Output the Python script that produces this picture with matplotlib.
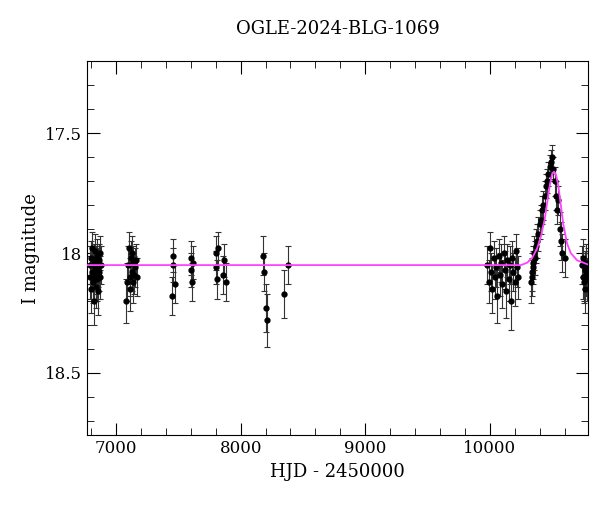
import numpy as np
import matplotlib
matplotlib.use('Agg')
import matplotlib.pyplot as plt
from matplotlib.ticker import MultipleLocator

# photometry: HJD-2450000, I mag, error
hjd = [6790, 6795, 6800, 6803, 6806, 6810, 6813, 6816, 6820, 6823, 6826, 6830, 6833, 6836,
       6840, 6843, 6846, 6850, 6853, 6856, 6860, 6865, 6870, 6875, 6880,
       7080, 7090, 7100, 7105, 7110, 7115, 7120, 7125, 7130, 7135, 7140, 7145, 7150, 7160, 7170,
       7450, 7455, 7460, 7470,
       7600, 7605, 7610, 7620,
       7800, 7805, 7810, 7820, 7860, 7870, 7880,
       8180, 8190, 8200, 8215,
       8350, 8380,
       9980, 9990, 10000, 10010, 10020, 10030, 10040, 10050, 10060, 10070, 10080, 10090,
       10100, 10110, 10120, 10130, 10140, 10150, 10160, 10170, 10180, 10190, 10200, 10210, 10220, 10230,
       10330, 10335, 10340, 10345, 10350, 10355, 10360, 10370, 10380, 10390, 10400, 10410,
       10420, 10430, 10440, 10450, 10460, 10470, 10480, 10490, 10500, 10510, 10520, 10530,
       10540, 10550, 10560, 10570, 10580, 10600,
       10740, 10745, 10750, 10755, 10760, 10765, 10770, 10775, 10780, 10785]
mag = [18.05, 18.10, 18.02, 18.15, 18.08, 17.98, 18.12, 18.05, 18.20, 18.03, 18.10, 17.99, 18.07,
       18.14, 18.04, 18.09, 18.01, 18.11, 18.06, 18.16, 18.03, 18.08, 18.00, 18.10, 18.05,
       18.20, 18.12, 18.05, 17.98, 18.10, 18.15, 18.02, 18.08, 18.00, 18.12, 18.04, 18.09, 18.06, 18.03, 18.10,
       18.18, 18.05, 18.01, 18.13,
       18.07, 18.02, 18.12, 18.04,
       18.00, 18.06, 18.11, 17.98, 18.09, 18.03, 18.12,
       18.01, 18.08, 18.23, 18.28,
       18.17, 18.05,
       18.05, 18.12, 17.98, 18.08, 18.15, 18.02, 18.10, 18.06, 18.18, 18.01, 18.09, 18.04,
       18.13, 18.00, 18.07, 18.16, 18.03, 18.11, 18.05, 18.20, 18.02, 18.08, 18.12, 17.99, 18.06, 18.10,
       18.12, 18.08, 18.10, 18.04, 18.06, 18.00, 18.02, 17.97, 17.95, 17.92, 17.88, 17.86,
       17.82, 17.80, 17.76, 17.72, 17.70, 17.67, 17.64, 17.62, 17.60, 17.65, 17.70, 17.76,
       17.82, 17.78, 17.90, 17.95, 18.00, 18.02,
       18.05, 18.10, 18.02, 18.12, 18.07, 18.15, 18.04, 18.09, 18.11, 18.06]
err = [0.08, 0.09, 0.07, 0.10, 0.08, 0.07, 0.09, 0.08, 0.10, 0.07, 0.09, 0.07, 0.08,
       0.09, 0.07, 0.08, 0.07, 0.09, 0.08, 0.10, 0.07, 0.08, 0.07, 0.09, 0.08,
       0.09, 0.08, 0.08, 0.07, 0.08, 0.09, 0.07, 0.08, 0.07, 0.09, 0.07, 0.08, 0.08, 0.07, 0.08,
       0.08, 0.07, 0.07, 0.08,
       0.07, 0.07, 0.08, 0.07,
       0.07, 0.07, 0.08, 0.07, 0.08, 0.07, 0.08,
       0.08, 0.08, 0.10, 0.11,
       0.10, 0.08,
       0.08, 0.09, 0.07, 0.08, 0.10, 0.07, 0.09, 0.08, 0.11, 0.07, 0.09, 0.08,
       0.10, 0.07, 0.08, 0.11, 0.07, 0.09, 0.08, 0.12, 0.07, 0.08, 0.10, 0.07, 0.08, 0.09,
       0.09, 0.08, 0.08, 0.07, 0.07, 0.07, 0.07, 0.07, 0.07, 0.07, 0.06, 0.06,
       0.06, 0.06, 0.06, 0.05, 0.05, 0.05, 0.05, 0.05, 0.05, 0.05, 0.06, 0.06,
       0.06, 0.06, 0.07, 0.08, 0.08, 0.08,
       0.08, 0.09, 0.08, 0.09, 0.08, 0.10, 0.08, 0.09, 0.09, 0.08]

# model curve
model_t = [6760, 10250, 10300, 10340, 10380, 10410, 10440, 10460, 10480, 10500, 10515,
           10530, 10550, 10570, 10590, 10620, 10650, 10700, 10750, 10800]
model_m = [18.05, 18.05, 18.04, 18.02, 17.98, 17.93, 17.86, 17.79, 17.72, 17.67, 17.66,
           17.67, 17.72, 17.80, 17.88, 17.96, 18.00, 18.03, 18.04, 18.05]

plt.rcParams['font.family'] = 'DejaVu Serif'
fig, ax = plt.subplots(figsize=(6.0, 5.12), dpi=100)
fig.subplots_adjust(left=0.145, right=0.98, top=0.88, bottom=0.15)

ax.errorbar(hjd, mag, yerr=err, fmt='o', color='black', ms=3.5, elinewidth=0.8,
            ecolor='#333333', capsize=2, capthick=0.8, zorder=2)
ax.plot(model_t, model_m, color='#ff44ff', lw=1.3, zorder=3)

ax.set_xlim(6767, 10788)
ax.set_ylim(18.76, 17.2)
ax.xaxis.set_major_locator(MultipleLocator(1000))
ax.xaxis.set_minor_locator(MultipleLocator(200))
ax.yaxis.set_minor_locator(MultipleLocator(0.1))
ax.set_yticks([17.5, 18.0, 18.5])
ax.set_yticklabels(['17.5', '18', '18.5'])
ax.tick_params(which='both', direction='in', top=True, right=True, labelsize=12)
ax.tick_params(which='major', length=9)
ax.tick_params(which='minor', length=5)

ax.set_xlabel('HJD - 2450000', fontsize=13)
ax.set_ylabel('I magnitude', fontsize=13)
ax.set_title('OGLE-2024-BLG-1069', fontsize=13, pad=20)

fig.savefig('out.png', dpi=100)
